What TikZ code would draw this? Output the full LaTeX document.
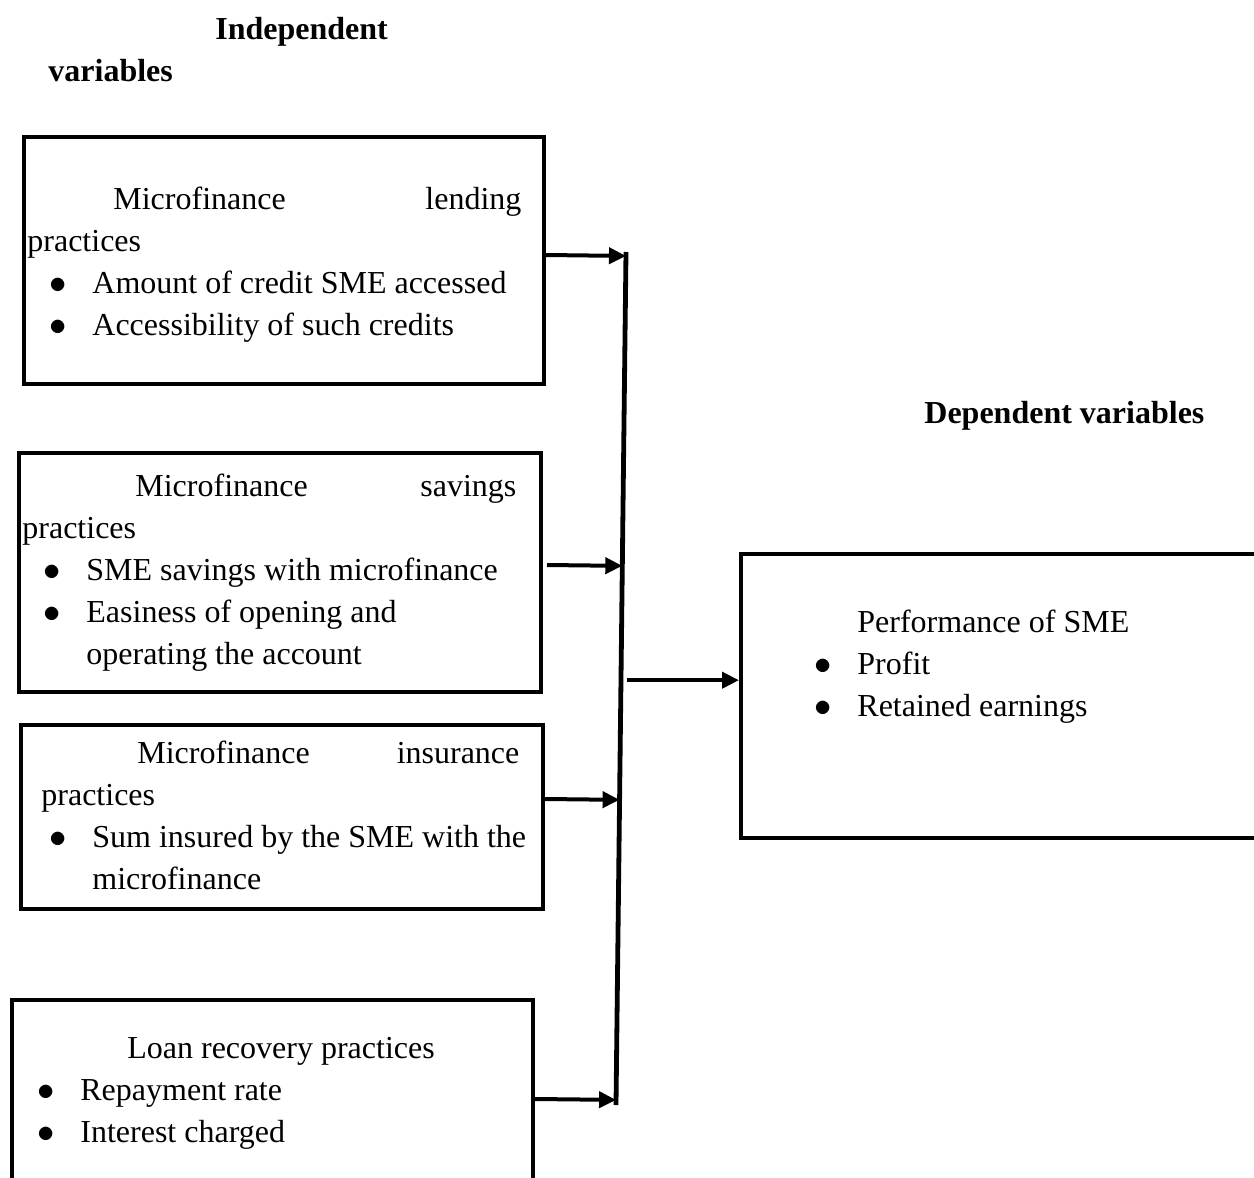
\documentclass[tikz,border=0pt]{standalone}
\usepackage{fontspec}
\setmainfont{Liberation Serif}
\usetikzlibrary{arrows.meta,calc}
\newcommand\bul{\hspace*{6pt}\makebox[34pt][c]{\fontsize{18}{21}\selectfont$\bullet$}}
\newcommand\hd[4]{\makebox[#2][l]{\hspace*{#1}#3\hfill #4}}
\begin{document}
\begin{tikzpicture}[x=0.5pt,y=-0.5pt,
  box/.style={draw,line width=2pt,anchor=north west,inner sep=0pt},
  txt/.style={anchor=north west,inner sep=0pt,align=left,font=\fontsize{16}{21}\selectfont},
  head/.style={txt,font=\fontsize{16}{21}\selectfont\bfseries},
  arr/.style={line width=2pt,-{Triangle[length=8.5pt,width=8pt]}},
  bus/.style={line width=2.4pt}]
  \useasboundingbox (0,0) rectangle (1254,1178);
  \clip (0,0) rectangle (1254,1178);
  \node[head] (indep) at (48,9.6) {\strut\hspace*{83.5pt}Independent\\variables};
  \node[head] (dep) at (924,393.6) {\strut Dependent variables};
  \node[box,minimum width=260pt,minimum height=123.5pt] (lend) at (22,135) {};
  \node[box,minimum width=261pt,minimum height=119.5pt] (save) at (17,451) {};
  \node[box,minimum width=261pt,minimum height=92pt] (insur) at (19,723) {};
  \node[box,minimum width=260.5pt,minimum height=100pt] (recov) at (10,998) {};
  \node[box,minimum width=280.5pt,minimum height=142pt] (perf) at (739,552) {};
  \node[txt] (lendtxt) at (12,179.6) {\strut\hd{50.5pt}{254.5pt}{Microfinance}{lending}\\
    \hspace*{7.5pt}practices\\
    \bul Amount of credit SME accessed\\
    \bul Accessibility of such credits};
  \node[txt] (savetxt) at (6,466.6) {\strut\hd{64.5pt}{255pt}{Microfinance}{savings}\\
    \hspace*{8pt}practices\\
    \bul SME savings with microfinance\\
    \bul Easiness of opening and\\
    \hspace*{40pt}operating the account};
  \node[txt] (insurtxt) at (12,733.6) {\strut\hd{62.5pt}{253.5pt}{Microfinance}{insurance}\\
    \hspace*{14.5pt}practices\\
    \bul Sum insured by the SME with the\\
    \hspace*{40pt}microfinance};
  \node[txt] (recovtxt) at (0,1028.6) {\strut\hspace*{63.5pt}Loan recovery practices\\
    \bul Repayment rate\\
    \bul Interest charged};
  \node[txt] (perftxt) at (777,602.6) {\strut\hspace*{40pt}Performance of SME\\
    \bul Profit\\
    \bul Retained earnings};
  \coordinate (bustop) at (626,252);
  \coordinate (busbot) at (616,1105);
  \draw[bus] (bustop) -- (busbot);
  \coordinate (l1) at ([yshift=-60pt]lend.north east);
  \coordinate (l2) at ([yshift=-57pt,xshift=2pt]save.north east);
  \coordinate (l3) at ([yshift=-38pt]insur.north east);
  \coordinate (l4) at ([yshift=-50.5pt]recov.north east);
  \draw[arr] (l1) -- ($(bustop)!(l1)!(busbot)$);
  \draw[arr] (l2) -- ($(bustop)!(l2)!(busbot)$);
  \draw[arr] (l3) -- ($(bustop)!(l3)!(busbot)$);
  \draw[arr] (l4) -- ($(bustop)!(l4)!(busbot)$);
  \coordinate (hub) at ($(bustop)!0.502!(busbot)$);
  \draw[arr] ([xshift=3pt]hub) -- (hub -| perf.west);
\end{tikzpicture}
\end{document}
